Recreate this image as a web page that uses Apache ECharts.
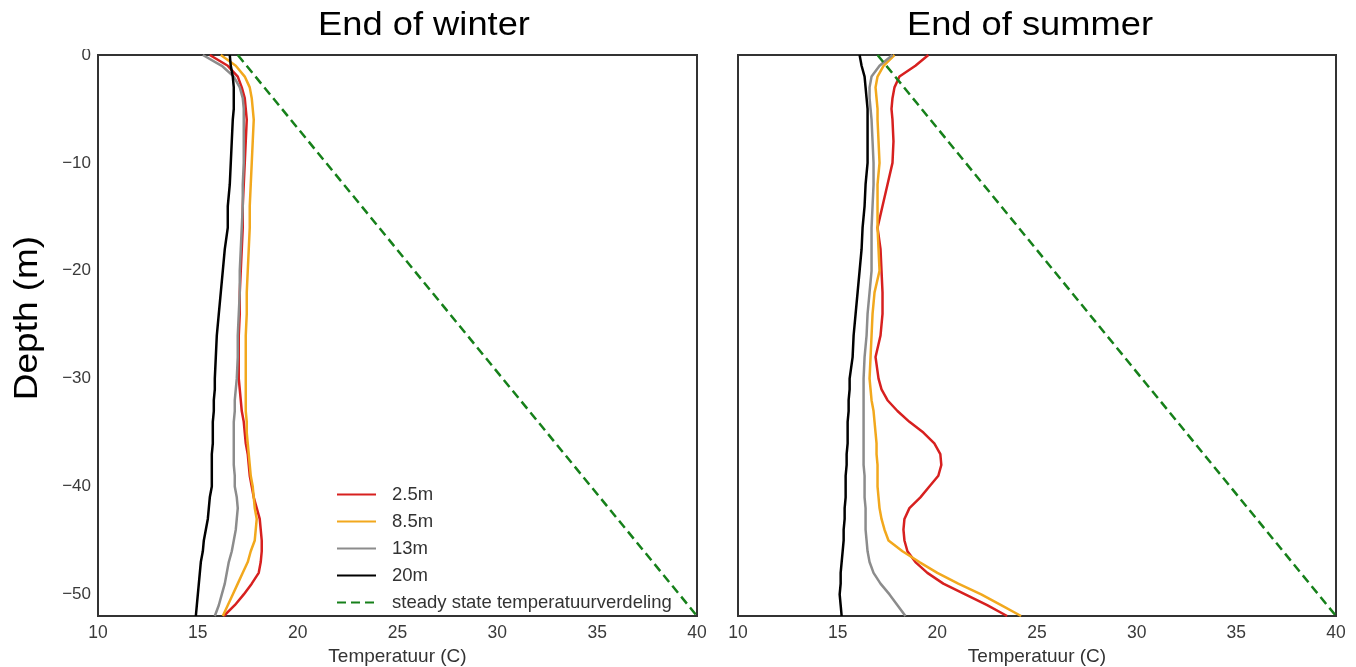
<!DOCTYPE html>
<html>
<head>
<meta charset="utf-8">
<script src="https://cdn.jsdelivr.net/npm/echarts@6/dist/echarts.min.js"></script>
<style>html,body{margin:0;padding:0;background:#fff;}#c{width:1356px;height:667px;}</style>
</head>
<body>
<div id="c"></div>
<script>
// ---- data ----
const depths = [0,-1,-2,-3,-4,-5,-6,-8,-10,-12,-14,-16,-18,-20,-22,-24,-26,-28,-30,-31,-32,-33,-34,-35,-36,-37,-38,-39,-40,-41,-42,-43,-44,-45,-46,-47,-48,-49,-50,-51,-52];

const seriesNames = ['2.5m','8.5m','13m','20m','steady state temperatuurverdeling'];
const panelTitles = ['End of winter','End of summer'];
const xTicks = [10,15,20,25,30,35,40];

const winter25 = [15.6,16.5,17.0,17.2,17.35,17.4,17.45,17.4,17.35,17.3,17.25,17.25,17.2,17.15,17.1,17.1,17.05,17.05,17.05,17.1,17.15,17.2,17.3,17.35,17.4,17.5,17.55,17.6,17.7,17.8,17.95,18.1,18.15,18.2,18.2,18.15,18.05,17.7,17.3,16.85,16.3];
const winter85 = [16.15,16.9,17.35,17.6,17.7,17.75,17.8,17.75,17.7,17.65,17.6,17.6,17.55,17.5,17.45,17.45,17.4,17.4,17.4,17.4,17.4,17.4,17.45,17.45,17.5,17.55,17.6,17.65,17.75,17.8,17.85,17.95,17.9,17.85,17.65,17.5,17.25,17.0,16.75,16.5,16.25];
const winter13 = [15.25,16.2,16.8,17.1,17.25,17.3,17.3,17.3,17.3,17.25,17.25,17.2,17.15,17.1,17.1,17.05,17.0,17.0,16.95,16.9,16.85,16.85,16.8,16.8,16.8,16.8,16.8,16.85,16.85,16.95,17.0,16.95,16.9,16.8,16.7,16.55,16.45,16.35,16.2,16.05,15.85];
const winter20 = [16.6,16.65,16.75,16.8,16.8,16.8,16.75,16.7,16.65,16.6,16.5,16.5,16.35,16.25,16.15,16.05,15.95,15.9,15.85,15.85,15.8,15.8,15.75,15.75,15.75,15.7,15.7,15.7,15.7,15.6,15.55,15.5,15.4,15.3,15.25,15.15,15.1,15.05,15.0,14.95,14.9];

const summer25 = [19.55,18.9,18.1,17.85,17.75,17.7,17.75,17.8,17.75,17.5,17.25,17.0,17.15,17.2,17.25,17.25,17.15,16.9,17.05,17.2,17.5,18.0,18.6,19.3,19.85,20.15,20.2,20.05,19.6,19.15,18.6,18.35,18.3,18.35,18.5,18.9,19.5,20.3,21.4,22.5,23.5];
const summer85 = [17.85,17.3,17.0,16.9,16.95,17.0,17.0,17.05,17.1,17.0,17.0,17.0,17.05,17.1,16.85,16.75,16.7,16.65,16.6,16.65,16.7,16.8,16.85,16.9,16.95,16.95,17.0,17.0,17.0,17.05,17.1,17.2,17.35,17.55,18.25,19.1,20.0,21.05,22.2,23.2,24.2];
const summer13 = [17.75,17.1,16.7,16.6,16.6,16.65,16.7,16.75,16.8,16.8,16.75,16.7,16.7,16.7,16.6,16.5,16.45,16.35,16.3,16.3,16.3,16.3,16.3,16.3,16.3,16.3,16.3,16.35,16.35,16.35,16.4,16.4,16.4,16.45,16.5,16.6,16.8,17.15,17.6,18.0,18.4];
const summer20 = [16.1,16.2,16.35,16.4,16.45,16.5,16.5,16.5,16.5,16.4,16.35,16.25,16.2,16.1,16.0,15.9,15.8,15.75,15.6,15.6,15.55,15.55,15.5,15.5,15.5,15.45,15.45,15.4,15.4,15.4,15.35,15.35,15.3,15.3,15.25,15.2,15.15,15.15,15.1,15.15,15.2];

const steadyTemps = [17, 40];
const steadyDepths = [0, -52];

// ---- chart ----
const FONT = '"Liberation Sans", Arial, Helvetica, sans-serif';
const colors = ['#d7201f', '#f2a81d', '#8c8c8c', '#000000', '#16801a'];
const pair = (temps, ds) => temps.map((t, i) => [t, ds[i]]);

function lineSeries(name, temps, ds, idx, color, dashed) {
  return {
    name: name, type: 'line', xAxisIndex: idx, yAxisIndex: idx,
    data: pair(temps, ds), showSymbol: false, symbol: 'none', smooth: false,
    animation: false, silent: true, clip: true,
    lineStyle: { color: color, width: 2.5, type: dashed ? [9, 5] : 'solid' },
    itemStyle: { color: color }
  };
}

const panels = [[winter25, winter85, winter13, winter20], [summer25, summer85, summer13, summer20]];
const series = [];
panels.forEach((p, g) => {
  p.forEach((temps, k) => series.push(lineSeries(seriesNames[k], temps, depths, g, colors[k], false)));
  series.push(lineSeries(seriesNames[4], steadyTemps, steadyDepths, g, colors[4], true));
});

function xAxis(g) {
  return {
    type: 'value', gridIndex: g, min: xTicks[0], max: xTicks[xTicks.length - 1], interval: 5,
    axisLine: { show: false }, axisTick: { show: false }, splitLine: { show: false },
    axisLabel: { fontSize: 17.5, color: '#3a3a3a', margin: 8, fontFamily: FONT },
    name: 'Temperatuur (C)', nameLocation: 'middle', nameGap: 31,
    nameTextStyle: { fontSize: 19, color: '#333', fontFamily: FONT }
  };
}
function yAxis(g) {
  return {
    type: 'value', gridIndex: g, min: -52, max: 0, interval: 2,
    axisLine: { show: false }, axisTick: { show: false }, splitLine: { show: false },
    axisLabel: {
      show: g === 0, fontSize: 17, color: '#3a3a3a', margin: 7, fontFamily: FONT,
      formatter: v => (Math.round(v) % 10 === 0) ? (v < 0 ? '\u2212' + Math.abs(v) : String(v)) : ''
    }
  };
}

const gridBase = { show: true, borderColor: '#333', borderWidth: 2, backgroundColor: 'transparent', outerBoundsMode: 'none', containLabel: false };

const chart = echarts.init(document.getElementById('c'), null, { renderer: 'canvas' });
chart.setOption({
  backgroundColor: '#ffffff',
  animation: false,
  grid: [
    Object.assign({ left: 98, top: 55, width: 599, height: 561 }, gridBase),
    Object.assign({ left: 738, top: 55, width: 598, height: 561 }, gridBase)
  ],
  xAxis: [xAxis(0), xAxis(1)],
  yAxis: [yAxis(0), yAxis(1)],
  legend: {
    data: seriesNames, orient: 'vertical', left: 336, top: 485, padding: 0,
    itemWidth: 39, itemHeight: 14, itemGap: 8, selectedMode: false,
    itemStyle: { opacity: 0 },
    textStyle: { fontSize: 18.5, color: '#333', fontFamily: FONT, padding: [0, 0, 0, 11] }
  },
  graphic: [
    { type: 'rect', left: 60, top: 0, shape: { width: 36, height: 49 }, style: { fill: '#fff' }, z: 100 },
    { type: 'text', x: 424, y: 26, scaleX: 1.1, style: { text: panelTitles[0], font: '33px ' + FONT, fill: '#000', textAlign: 'center', textVerticalAlign: 'middle' } },
    { type: 'text', x: 1030, y: 26, scaleX: 1.1, style: { text: panelTitles[1], font: '33px ' + FONT, fill: '#000', textAlign: 'center', textVerticalAlign: 'middle' } },
    { type: 'text', x: 28, y: 318, rotation: Math.PI / 2, scaleX: 1.12, style: { text: 'Depth (m)', font: '33px ' + FONT, fill: '#000', textAlign: 'center', textVerticalAlign: 'middle' } }
  ],
  series: series
});
</script>
</body>
</html>
